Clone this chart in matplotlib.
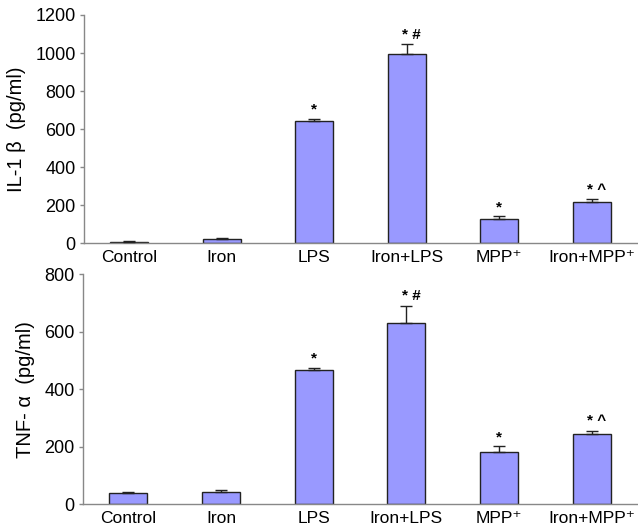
import matplotlib
matplotlib.use("Agg")
import matplotlib.pyplot as plt
import numpy as np

plt.rcParams['font.family'] = ['Liberation Sans', 'DejaVu Sans']

categories = ["Control", "Iron", "LPS", "Iron+LPS", "MPP⁺", "Iron+MPP⁺"]
il1b_mean = [5, 20, 644, 995, 128, 217]
il1b_err = [4, 5, 10, 52, 12, 14]
tnf_mean = [38, 44, 467, 630, 183, 245]
tnf_err = [5, 7, 7, 60, 18, 11]
marks = ["", "", "*", "* #", "*", "* ^"]

fig = plt.figure(figsize=(6.38, 5.3), dpi=100)
ax1 = fig.add_axes([0.1317, 0.5415, 0.8683, 0.4302])
ax2 = fig.add_axes([0.1300, 0.0485, 0.8700, 0.4345])

bar_color = "#9999FF"
x = np.arange(len(categories))

def draw(ax, means, errs, ymax, ylabel):
    ax.bar(x, means, width=0.41, color=bar_color, edgecolor="#222222", linewidth=1.0, zorder=2)
    ax.errorbar(x, means, yerr=[np.zeros(len(errs)), errs], fmt="none", ecolor="#222222",
                elinewidth=1.0, capsize=4, capthick=1.0, zorder=3)
    for xi, m, e, t in zip(x, means, errs, marks):
        if t:
            ax.text(xi + (0.05 if len(t) > 1 else 0.0), m + e + ymax * 0.01, t,
                    ha="center", va="bottom", fontsize=11, fontweight="bold")
    ax.set_xlim(-0.49, 5.5)
    ax.set_ylim(0, ymax)
    ax.set_yticks(np.arange(0, ymax + 1, 200))
    ax.set_xticks(x)
    ax.set_xticklabels(categories, fontsize=12.5)
    ax.tick_params(axis="x", length=0, pad=5)
    ax.tick_params(axis="y", length=3, width=1, color="#888888", labelsize=13, pad=3)
    for s in ["top", "right"]:
        ax.spines[s].set_visible(False)
    for s in ["left", "bottom"]:
        ax.spines[s].set_color("#888888")
        ax.spines[s].set_linewidth(1.0)
    ax.set_ylabel(ylabel, fontsize=14.5, labelpad=7)

draw(ax1, il1b_mean, il1b_err, 1200, "IL-1 β  (pg/ml)")
draw(ax2, tnf_mean, tnf_err, 800, "TNF- α  (pg/ml)")

fig.savefig("out.png", dpi=100)
